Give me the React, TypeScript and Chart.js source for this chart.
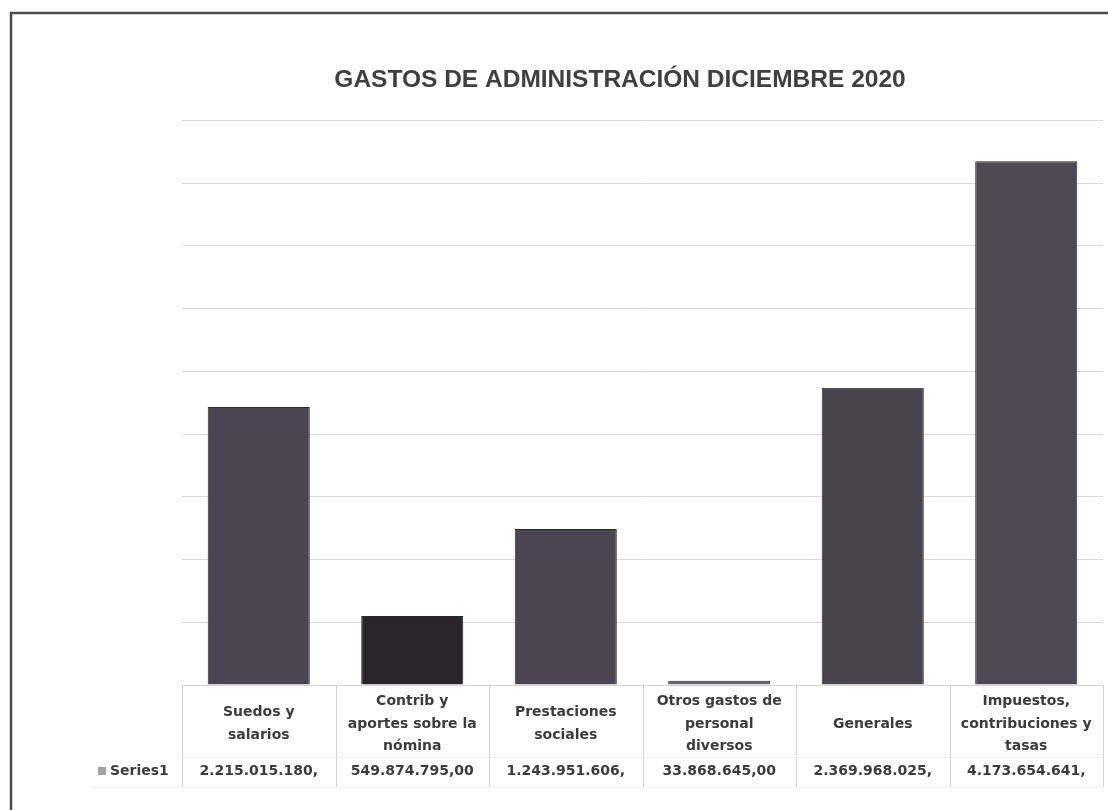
import React, { useEffect, useRef } from "react";
import { Chart, registerables } from "chart.js";

Chart.register(...registerables);

const TITLE = "GASTOS DE ADMINISTRACIÓN DICIEMBRE 2020";
const CATEGORIES: string[][] = [
  ["Suedos y", "salarios"],
  ["Contrib y", "aportes sobre la", "nómina"],
  ["Prestaciones", "sociales"],
  ["Otros gastos de", "personal", "diversos"],
  ["Generales"],
  ["Impuestos,", "contribuciones y", "tasas"],
];
const VALUES = [2215015180, 549874795, 1243951606, 33868645, 2369968025, 4173654641];
const VALUE_LABELS = [
  "2.215.015.180,",
  "549.874.795,00",
  "1.243.951.606,",
  "33.868.645,00",
  "2.369.968.025,",
  "4.173.654.641,",
];
const SERIES_NAME = "Series1";
const BAR_COLORS = ["#4a4651", "#29252a", "#4b4652", "#6a6670", "#47444c", "#4d4a56"];
const Y_MIN = 0;
const Y_MAX = 4500000000;
const Y_STEP = 500000000;

const TABLE_FONT = "bold 14px 'DejaVu Sans', 'Liberation Sans', sans-serif";
const TEXT_COLOR = "#3c3c3c";

const framePlugin = {
  id: "frame",
  beforeDraw(chart: any) {
    const ctx = chart.ctx;
    ctx.save();
    ctx.fillStyle = "#ffffff";
    ctx.fillRect(0, 0, chart.width, chart.height);
    ctx.strokeStyle = "#4d4d4d";
    ctx.lineWidth = 2.5;
    ctx.beginPath();
    ctx.moveTo(11, chart.height + 5);
    ctx.lineTo(11, 13);
    ctx.lineTo(chart.width + 5, 13);
    ctx.stroke();
    ctx.restore();
  },
};

const tablePlugin = {
  id: "dataTable",
  afterDraw(chart: any) {
    const ctx = chart.ctx;
    const area = chart.chartArea;
    const xs = chart.scales.x;
    const n = CATEGORIES.length;
    const w = (area.right - area.left) / n;
    const top = area.bottom;
    const headerCenter = top + 39;
    const valueCenter = top + 86;
    const bottom = top + 102;
    ctx.save();
    ctx.strokeStyle = "#d4d4d4";
    ctx.lineWidth = 1;
    ctx.beginPath();
    ctx.moveTo(area.left, top + 0.5);
    ctx.lineTo(area.right, top + 0.5);
    for (let i = 0; i <= n; i++) {
      const x = Math.round(area.left + i * w) + 0.5;
      ctx.moveTo(x, top);
      ctx.lineTo(x, bottom);
    }
    ctx.stroke();
    ctx.strokeStyle = "#efefef";
    ctx.beginPath();
    ctx.moveTo(area.left, top + 72.5);
    ctx.lineTo(area.right, top + 72.5);
    ctx.moveTo(90, bottom + 0.5);
    ctx.lineTo(area.right, bottom + 0.5);
    ctx.stroke();

    ctx.font = TABLE_FONT;
    ctx.fillStyle = TEXT_COLOR;
    ctx.textAlign = "center";
    ctx.textBaseline = "middle";
    const lh = 22.5;
    CATEGORIES.forEach((lines, i) => {
      const cx = xs.getPixelForValue(i);
      const start = headerCenter - ((lines.length - 1) * lh) / 2;
      lines.forEach((t, j) => ctx.fillText(t, cx, start + j * lh));
      ctx.fillText(VALUE_LABELS[i], cx, valueCenter);
    });
    ctx.fillStyle = "#a3a3a3";
    ctx.fillRect(98, valueCenter - 4, 8, 8);
    ctx.fillStyle = TEXT_COLOR;
    ctx.textAlign = "left";
    ctx.fillText(SERIES_NAME, 110, valueCenter);
    ctx.restore();
  },
};

export default function App() {
  const ref = useRef<HTMLCanvasElement>(null);
  useEffect(() => {
    const canvas = ref.current;
    if (!canvas) return;
    const chart = new Chart(canvas, {
      type: "bar",
      data: {
        labels: CATEGORIES.map((c) => c.join(" ")),
        datasets: [
          {
            label: SERIES_NAME,
            data: VALUES,
            backgroundColor: BAR_COLORS,
            borderColor: "#2a2a2a",
            borderWidth: 1,
            barPercentage: 0.665,
            categoryPercentage: 1,
          },
        ],
      },
      options: {
        responsive: false,
        animation: false,
        layout: { padding: { top: 0, left: 137, right: 5, bottom: 125 } },
        plugins: {
          legend: { display: false },
          tooltip: { enabled: false },
          title: {
            display: true,
            text: TITLE,
            color: "#404040",
            font: {
              family: "'Liberation Sans', sans-serif",
              size: 24.5,
              weight: "bold",
              lineHeight: 1.2,
            },
            padding: { top: 66, bottom: 25 },
          },
        },
        scales: {
          x: { display: false },
          y: {
            display: true,
            min: Y_MIN,
            max: Y_MAX,
            ticks: { display: false, stepSize: Y_STEP },
            grid: { color: "#d8d8d8", drawTicks: false, lineWidth: 1 },
            border: { display: false },
            afterFit: (scale: any) => {
              scale.width = 45;
            },
          },
        },
      },
      plugins: [framePlugin, tablePlugin],
    });
    return () => chart.destroy();
  }, []);
  return (
    <div style={{ position: "absolute", left: 0, top: 0, width: 1108, height: 810, background: "#fff" }}>
      <canvas ref={ref} width={1108} height={810} style={{ display: "block" }} />
    </div>
  );
}
